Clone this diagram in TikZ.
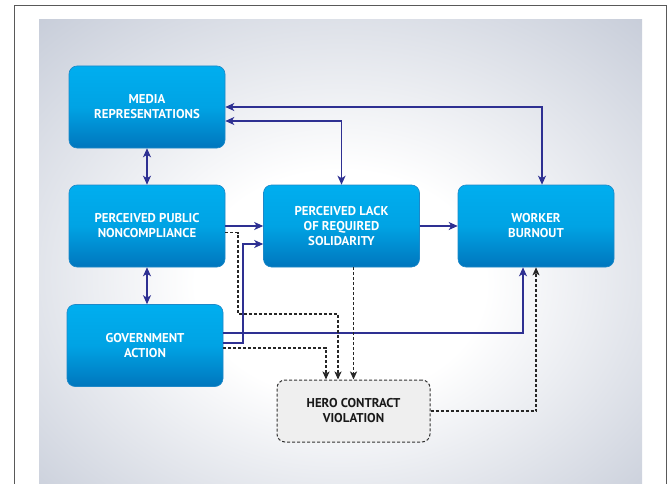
\documentclass[tikz,border=0pt]{standalone}
\usepackage{fontspec}
\setmainfont{PT Sans}
\usetikzlibrary{arrows.meta,calc}

\definecolor{boxtop}{HTML}{00AEEF}
\definecolor{boxmid}{HTML}{00A3E4}
\definecolor{boxbot}{HTML}{0076BD}
\definecolor{boxrim}{HTML}{1E88C8}
\definecolor{navy}{HTML}{2E3092}
\definecolor{panelEdge}{HTML}{C4CAD7}
\definecolor{herofill}{HTML}{EFEFEF}

\pgfdeclareradialshading{panelglow}{\pgfpoint{0bp}{-4bp}}{%
  color(0bp)=(white); color(12bp)=(white); color(38bp)=(panelEdge); color(50bp)=(panelEdge)}

\tikzset{
  block/.style={draw=boxrim, line width=0.6pt, rounded corners=8pt,
    top color=boxtop, bottom color=boxbot, middle color=boxmid,
    minimum width=156pt, minimum height=82pt, inner sep=0pt, align=center,
    text=white, font=\fontsize{12.8}{15}\selectfont\bfseries},
  herobox/.style={draw=black!80, dashed, dash pattern=on 3pt off 2pt, line width=1pt,
    rounded corners=8pt, fill=herofill, minimum width=153pt, minimum height=62pt,
    inner sep=0pt, align=center, text=black!90,
    font=\fontsize{12.8}{15}\selectfont\bfseries},
  link/.style={draw=navy, line width=1.4pt,
    arrows={Stealth[length=9pt,width=8pt,inset=2.5pt]-Stealth[length=9pt,width=8pt,inset=2.5pt]}},
  linkto/.style={draw=navy, line width=1.4pt, -{Stealth[length=9pt,width=8pt,inset=2.5pt]}},
  dlink/.style={draw=black!85, line width=1.4pt, dash pattern=on 3pt off 2pt,
    -{Stealth[length=8pt,width=7pt,inset=2pt]}}
}

\begin{document}
\begin{tikzpicture}[x=1pt, y=-1pt]
  \useasboundingbox (0,0) rectangle (669,484);
  \clip (0,0) rectangle (669,484);

  % Frame and background panel
  \draw[black!65, line width=1pt] (14,490) -- (14,6) -- (666,6) -- (666,490);
  \shade[shading=panelglow] (39,20) rectangle (642,490);

  % Nodes
  \node[block] (media) at (147,107) {MEDIA\\REPRESENTATIONS};
  \node[block] (ppn) at (147,226) {PERCEIVED PUBLIC\\NONCOMPLIANCE};
  \node[block] (plrs) at (341.5,226) {PERCEIVED LACK\\OF REQUIRED\\SOLIDARITY};
  \node[block] (burnout) at (536,226) {WORKER\\BURNOUT};
  \node[block] (gov) at (145,345.5) {GOVERNMENT\\ACTION};
  \node[herobox] (hero) at (353.5,411) {HERO CONTRACT\\VIOLATION};

  % Two-way links
  \draw[link] (media.south) -- (ppn.north);
  \draw[link] (ppn.south) -- (ppn.south |- gov.north);
  \draw[link] (media.east) -| ($(burnout.north)+(6,0)$);
  \draw[link] ($(media.east)+(0,14)$) -| (plrs.north);

  % One-way links
  \draw[linkto] (ppn.east) -- (plrs.west);
  \draw[linkto] (plrs.east) -- (burnout.west);
  \draw[linkto] ($(gov.east)+(0,-2.5)$) -- ++(19.5,0) |- ($(plrs.west)+(0,18)$);
  \draw[linkto] ($(gov.east)+(0,-12.5)$) -| ($(burnout.south)+(-13,0)$);

  % Dashed links to and from the hero contract
  \draw[dlink] ($(ppn.east)+(0,6.5)$) -- ++(12.5,0) -- ++(0,81.5) -| ($(hero.north)+(-15.5,0)$);
  \draw[dlink] ($(plrs.south)+(12,0)$) -- (hero.north);
  \draw[dlink] ($(gov.east)+(0,2.5)$) -| ($(hero.north)+(-27.5,0)$);
  \draw[dlink] (hero.east) -| (burnout.south);
\end{tikzpicture}
\end{document}
